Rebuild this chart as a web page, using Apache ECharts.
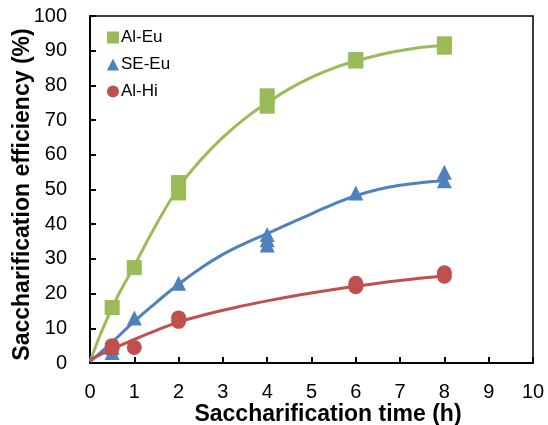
<!DOCTYPE html>
<html><head><meta charset="utf-8">
<script src="https://cdn.jsdelivr.net/npm/echarts@6/dist/echarts.min.js"></script>
<style>html,body{margin:0;padding:0;background:#fff}#c{width:548px;height:425px}</style>
</head><body><div id="c"></div>
<script>
// Measured points [time (h), efficiency (%)]
const alEuPoints = [[0.5,16],[1,27.5],[2,49],[2,52],[4,74],[4,77],[6,87],[6,87.5],[8,91],[8,92]];
const seEuPoints = [[0.5,3],[0.5,4.5],[1,13],[2,23],[4,34],[4,35.5],[4,37],[6,49],[8,52.5],[8,55]];
const alHiPoints = [[0.5,4.3],[0.5,5],[1,4.5],[2,12],[2,13],[6,22],[6,23],[8,25],[8,26]];
// Fitted curves
const curveX    = [0, 0.5, 1, 1.5, 2, 2.5, 3, 3.5, 4, 4.5, 5, 5.5, 6, 6.5, 7, 7.5, 8];
const alEuCurve = [0.5, 16, 28, 40, 50.5, 58.5, 65, 70.5, 75, 79, 82.3, 85, 87, 88.7, 90, 91, 91.5];
const seEuCurve = [0.3, 6, 12, 17.5, 22.7, 27.3, 31.3, 34.5, 37.3, 40.2, 43, 45.8, 48.2, 50, 51.2, 52, 52.5];
const alHiCurve = [1, 4, 6.8, 9.4, 11.8, 13.6, 15.2, 16.6, 17.9, 19.1, 20.2, 21.2, 22.1, 23, 23.8, 24.5, 25.1];
const xTicks = [0,1,2,3,4,5,6,7,8,9,10];
const yTicks = [0,10,20,30,40,50,60,70,80,90,100];

const GREEN = '#9BBB59', BLUE = '#4F81BD', RED = '#C0504D';
const pair = (xs, ys) => xs.map((x, i) => [x, ys[i]]);
const font = 'Liberation Sans, Arial, sans-serif';

const chart = echarts.init(document.getElementById('c'));
chart.setOption({
  animation: false,
  grid: { left: 90, right: 15, top: 16, bottom: 62, outerBoundsMode: 'none', containLabel: false,
          show: true, borderColor: '#000', borderWidth: 1.5, backgroundColor: 'transparent' },
  legend: {
    left: 102, top: 24, orient: 'vertical', itemWidth: 12, itemHeight: 12, itemGap: 10,
    data: [{name:'Al-Eu', icon:'rect'}, {name:'SE-Eu', icon:'triangle'}, {name:'Al-Hi', icon:'circle'}],
    textStyle: { fontFamily: font, fontSize: 17, color: '#000', padding: [0,0,0,-3] }
  },
  xAxis: {
    type: 'value', min: xTicks[0], max: xTicks[xTicks.length-1], interval: 1,
    name: 'Saccharification time (h)', nameLocation: 'middle', nameGap: 40, nameMoveOverlap: false,
    nameTextStyle: { fontFamily: font, fontSize: 23, fontWeight: 'bold', color: '#000', padding: [0,0,0,33] },
    axisLine: { show: true, lineStyle: { color: '#000', width: 2 } },
    axisTick: { show: true, inside: true, length: 6, lineStyle: { color: '#000', width: 2 } },
    axisLabel: { fontFamily: font, fontSize: 20, color: '#000', margin: 19 },
    splitLine: { show: false }
  },
  yAxis: {
    type: 'value', min: yTicks[0], max: yTicks[yTicks.length-1], interval: 10,
    name: 'Saccharification efficiency (%)', nameLocation: 'middle', nameGap: 56, nameMoveOverlap: false,
    nameTextStyle: { fontFamily: font, fontSize: 23, fontWeight: 'bold', color: '#000', padding: [0,10,0,0] },
    axisLine: { show: true, lineStyle: { color: '#000', width: 2 } },
    axisTick: { show: true, inside: true, length: 6, lineStyle: { color: '#000', width: 2 } },
    axisLabel: { fontFamily: font, fontSize: 20, color: '#000', margin: 23 },
    splitLine: { show: false }
  },
  series: [
    { name: 'Al-Eu fit', type: 'line', smooth: true, showSymbol: false, data: pair(curveX, alEuCurve), lineStyle: { color: GREEN, width: 3 }, z: 2 },
    { name: 'SE-Eu fit', type: 'line', smooth: true, showSymbol: false, data: pair(curveX, seEuCurve), lineStyle: { color: BLUE, width: 3 }, z: 2 },
    { name: 'Al-Hi fit', type: 'line', smooth: true, showSymbol: false, data: pair(curveX, alHiCurve), lineStyle: { color: RED, width: 3 }, z: 2 },
    { name: 'Al-Eu', type: 'scatter', symbol: 'rect', symbolSize: 15, data: alEuPoints, itemStyle: { color: GREEN, opacity: 1 }, z: 3 },
    { name: 'SE-Eu', type: 'scatter', symbol: 'triangle', symbolSize: 15, data: seEuPoints, itemStyle: { color: BLUE, opacity: 1 }, z: 3 },
    { name: 'Al-Hi', type: 'scatter', symbol: 'circle', symbolSize: 15, data: alHiPoints, itemStyle: { color: RED, opacity: 1 }, z: 3 }
  ]
});
</script>
</body></html>
